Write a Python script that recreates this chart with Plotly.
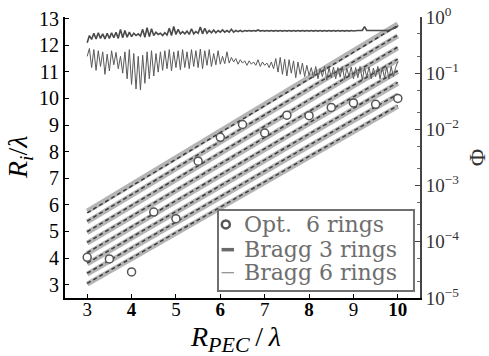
import numpy as np
import plotly.graph_objects as go

# ---------------- data ----------------
r_pec = [3.0, 3.5, 4.0, 4.5, 5.0, 5.5, 6.0, 6.5, 7.0, 7.5, 8.0, 8.5, 9.0, 9.5, 10.0]
opt_6_rings = [4.03, 3.97, 3.48, 5.73, 5.48, 7.64, 8.54, 9.02, 8.70, 9.37, 9.35, 9.66, 9.83, 9.78, 10.00]

bragg_x = [3.0, 10.0]
bragg3_start = [3.02, 3.40, 3.78, 4.17, 4.56, 4.96, 5.36, 5.76]
bragg3_end = [9.70, 10.13, 10.57, 11.01, 11.45, 11.90, 12.35, 12.80]
bragg6_start = [3.05, 3.43, 3.81, 4.20, 4.59, 4.99, 5.39, 5.70]
bragg6_end = [9.73, 10.16, 10.60, 11.04, 11.48, 11.93, 12.38, 12.74]

# log10(Phi), sampled every 0.05 in R_PEC/lambda from 3 to 10
phi_upper_log = [
    -0.46, -0.33, -0.40, -0.29, -0.39, -0.28, -0.38, -0.30, -0.39, -0.29,
    -0.38, -0.28, -0.37, -0.27, -0.38, -0.22, -0.37, -0.24, -0.36, -0.27,
    -0.35, -0.29, -0.33, -0.30, -0.34, -0.22, -0.36, -0.19, -0.35, -0.21,
    -0.33, -0.27, -0.31, -0.29, -0.33, -0.28, -0.32, -0.20, -0.33, -0.17,
    -0.31, -0.22, -0.30, -0.26, -0.30, -0.25, -0.31, -0.21, -0.30, -0.26,
    -0.29, -0.18, -0.30, -0.20, -0.29, -0.24, -0.28, -0.23, -0.28, -0.24,
    -0.27, -0.23, -0.27, -0.24, -0.27, -0.22, -0.27, -0.24, -0.26, -0.24,
    -0.26, -0.24, -0.25, -0.24, -0.25, -0.24, -0.25, -0.23, -0.25, -0.24,
    -0.25, -0.24, -0.25, -0.24, -0.25, -0.24, -0.25, -0.24, -0.25, -0.24,
    -0.25, -0.24, -0.25, -0.24, -0.25, -0.24, -0.25, -0.24, -0.25, -0.24,
    -0.25, -0.24, -0.25, -0.24, -0.25, -0.24, -0.25, -0.24, -0.25, -0.24,
    -0.25, -0.24, -0.25, -0.24, -0.25, -0.24, -0.25, -0.24, -0.25, -0.24,
    -0.25, -0.24, -0.24, -0.24, -0.24, -0.17, -0.24, -0.24, -0.24, -0.24,
    -0.24, -0.24, -0.24, -0.24, -0.24, -0.24, -0.24, -0.22, -0.21, -0.19,
    -0.16,
]
phi_lower_log = [
    -0.70, -0.56, -0.90, -0.58, -0.95, -0.60, -0.88, -0.62, -1.02, -0.66,
    -0.96, -0.60, -0.85, -0.63, -0.92, -0.70, -1.00, -0.62, -1.10, -0.58,
    -1.20, -0.65, -1.28, -0.70, -1.30, -0.68, -1.18, -0.62, -1.10, -0.60,
    -1.05, -0.65, -0.98, -0.62, -0.95, -0.60, -0.92, -0.58, -0.96, -0.62,
    -0.90, -0.60, -0.94, -0.58, -0.90, -0.62, -0.92, -0.58, -0.88, -0.60,
    -0.90, -0.57, -0.92, -0.60, -0.86, -0.58, -0.88, -0.65, -0.85, -0.60,
    -0.84, -0.70, -0.83, -0.62, -0.82, -0.72, -0.80, -0.74, -0.84, -0.76,
    -0.82, -0.78, -0.86, -0.78, -0.84, -0.80, -0.86, -0.76, -0.88, -0.80,
    -0.86, -0.82, -0.90, -0.80, -0.92, -0.74, -0.98, -0.72, -1.02, -0.75,
    -1.05, -0.76, -1.00, -0.78, -1.08, -0.80, -1.02, -0.82, -1.06, -0.86,
    -1.04, -0.90, -1.08, -0.88, -1.10, -0.92, -1.06, -0.88, -1.12, -0.90,
    -1.08, -0.89, -1.10, -0.90, -1.07, -0.88, -1.11, -0.91, -1.06, -0.89,
    -1.10, -0.90, -1.08, -0.88, -1.12, -0.90, -1.07, -0.89, -1.10, -0.91,
    -1.06, -0.88, -1.10, -0.90, -1.08, -0.89, -1.10, -0.88, -1.06, -0.90,
    -0.80,
]

x_ticks = [3, 4, 5, 6, 7, 8, 9, 10]
x_ticktext = ["3", "<b>4</b>", "5", "<b>6</b>", "7", "<b>8</b>", "9", "<b>10</b>"]
y_ticks = [3, 4, 5, 6, 7, 8, 9, 10, 11, 12, 13]
phi_ticks = [1e-5, 1e-4, 1e-3, 1e-2, 1e-1, 1e0]
phi_ticktext = ["10<sup>\u22125</sup>", "10<sup>\u22124</sup>", "10<sup>\u22123</sup>",
                "10<sup>\u22122</sup>", "10<sup>\u22121</sup>", "10<sup>0</sup>"]

# ---------------- figure ----------------
FONT = "Liberation Serif"
fig = go.Figure()

for s, e in zip(bragg3_start, bragg3_end):
    fig.add_trace(go.Scatter(x=bragg_x, y=[s, e], mode="lines",
                             line=dict(color="#b4b4b4", width=5),
                             showlegend=False, hoverinfo="skip"))
for s, e in zip(bragg6_start, bragg6_end):
    fig.add_trace(go.Scatter(x=bragg_x, y=[s, e], mode="lines",
                             line=dict(color="#3c3c3c", width=1.5, dash="4px,3px"),
                             showlegend=False, hoverinfo="skip"))

fig.add_trace(go.Scatter(x=r_pec, y=opt_6_rings, mode="markers",
                         marker=dict(symbol="circle", size=8, color="white",
                                     line=dict(color="#555555", width=1.5)),
                         showlegend=False))

phi_x_up = np.linspace(3, 10, len(phi_upper_log))
phi_x_lo = np.linspace(3, 10, len(phi_lower_log))
fig.add_trace(go.Scatter(x=phi_x_up, y=10 ** np.array(phi_upper_log), yaxis="y2",
                         mode="lines", line=dict(color="#4a4a4a", width=1.6),
                         showlegend=False))
fig.add_trace(go.Scatter(x=phi_x_lo, y=10 ** np.array(phi_lower_log), yaxis="y2",
                         mode="lines", line=dict(color="#5a5a5a", width=1.0),
                         showlegend=False))

# ---- hand-made legend (box, samples, labels) ----
lx0, lx1, ly0, ly1 = 0.431, 0.983, 0.025, 0.313
shapes = [
    dict(type="rect", xref="paper", yref="paper", x0=lx0, x1=lx1, y0=ly0, y1=ly1,
         fillcolor="white", line=dict(color="#707070", width=2), layer="above"),
    dict(type="circle", xref="paper", yref="paper", xsizemode="pixel", ysizemode="pixel",
         xanchor=lx0 + 0.022, yanchor=0.262, x0=-4, x1=4, y0=-4, y1=4,
         fillcolor="white", line=dict(color="#555555", width=2.5), layer="above"),
    dict(type="line", xref="paper", yref="paper", x0=lx0 + 0.010, x1=lx0 + 0.045,
         y0=0.172, y1=0.172, line=dict(color="#6a6a6a", width=3.5), layer="above"),
    dict(type="line", xref="paper", yref="paper", x0=lx0 + 0.010, x1=lx0 + 0.045,
         y0=0.09, y1=0.09, line=dict(color="#8a8a8a", width=1.2), layer="above"),
]
legend_labels = ["Opt.  6 rings", "Bragg 3 rings", "Bragg 6 rings"]
legend_y = [0.262, 0.172, 0.09]
annotations = []
for lab, yy in zip(legend_labels, legend_y):
    annotations.append(dict(x=lx0 + 0.068, y=yy, xref="paper", yref="paper",
                            text=lab, showarrow=False, xanchor="left", yanchor="middle",
                            font=dict(family="DejaVu Serif", size=22, color="#6e6e6e")))

# axis titles as annotations
annotations.append(dict(x=-0.128, y=0.50, xref="paper", yref="paper", textangle=-90,
                        xanchor="center", yanchor="middle",
                        text="<i>R<sub>i</sub></i>/<i>\u03bb</i>", showarrow=False,
                        font=dict(family=FONT, size=28, color="black")))
annotations.append(dict(x=1.16, y=0.50, xref="paper", yref="paper", textangle=-90,
                        xanchor="center", yanchor="middle",
                        text="\u03a6", showarrow=False,
                        font=dict(family=FONT, size=24, color="#333333")))
annotations.append(dict(x=0.48, y=-0.145, xref="paper", yref="paper",
                        xanchor="center", yanchor="middle",
                        text="<i>R</i><sub><span style='font-size:22px'><i>PEC</i></span></sub>"
                             "\u2009/\u2009<i>\u03bb</i>",
                        showarrow=False,
                        font=dict(family=FONT, size=28, color="black")))

fig.update_layout(
    width=489, height=356,
    margin=dict(l=65, r=69, t=17, b=58, autoexpand=False),
    plot_bgcolor="white", paper_bgcolor="white",
    font=dict(family=FONT, size=18, color="black"),
    showlegend=False,
    shapes=shapes, annotations=annotations,
    xaxis=dict(range=[2.5, 10.5], tickvals=x_ticks, ticktext=x_ticktext,
               ticks="inside", ticklen=4, tickcolor="black", showline=True,
               linecolor="black", linewidth=2, showgrid=False, zeroline=False,
               automargin=False, ticklabelstandoff=-7,
               tickfont=dict(family=FONT, size=19)),
    yaxis=dict(range=[2.5, 13.06], tickvals=y_ticks, ticks="inside", ticklen=4,
               tickcolor="black", showline=True, linecolor="black", linewidth=2,
               showgrid=False, zeroline=False, automargin=False,
               tickfont=dict(family=FONT, size=20)),
    yaxis2=dict(type="log", range=[-5, 0], overlaying="y", side="right",
                tickvals=phi_ticks, ticktext=phi_ticktext, ticks="inside", ticklen=5,
                tickcolor="#444444", showline=True, linecolor="#444444", linewidth=2,
                showgrid=False, zeroline=False, automargin=False,
                minor=dict(ticks="inside", ticklen=3, tickcolor="#666666", showgrid=False),
                tickfont=dict(family=FONT, size=19, color="#333333")),
)

fig.write_html("out.html", config={"displayModeBar": False},
               post_script="document.body.style.margin='0';document.body.style.overflow='hidden';")
